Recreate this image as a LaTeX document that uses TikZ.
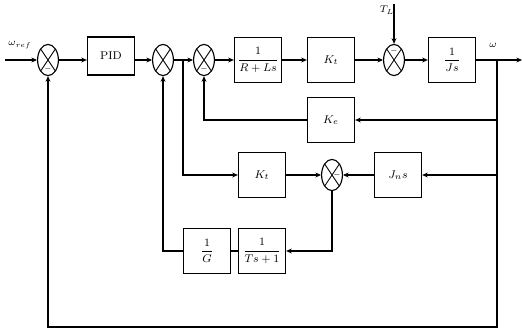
\documentclass[tikz,border=0pt]{standalone}
\usepackage{amsmath}
\usetikzlibrary{arrows.meta,calc,positioning,shapes.geometric}

\begin{document}
\begin{tikzpicture}[>={Stealth[length=4pt,width=3.5pt]}, x=0.025cm, y=-0.025cm, thick,
    every node/.style={font=\scriptsize},
    block/.style={draw, minimum width=1.18cm, minimum height=1.13cm, align=center, inner sep=1pt, font=\footnotesize},
    sumj/.style={draw, ellipse, minimum width=0.52cm, minimum height=0.78cm, inner sep=0pt,
        path picture={\draw[semithick] (path picture bounding box.north west) -- (path picture bounding box.south east)
            (path picture bounding box.north east) -- (path picture bounding box.south west);}},
    sign/.style={font=\tiny, inner sep=0pt}]
\useasboundingbox (0,0) rectangle (523,329);
% main forward path
\coordinate (in) at (5,60);
\node[sumj] (s1) at (48,60) {};
\node[block, minimum height=0.95cm] (pid) at (111,56) {PID};
\node[sumj] (s2) at (163,60) {};
\node[sumj] (s3) at (204,60) {};
\node[block] (rl) at (258,60) {$\dfrac{1}{R+Ls}$};
\node[block] (kt) at (331,60) {$K_t$};
\node[sumj] (s4) at (394,60) {};
\node[block] (js) at (452,60) {$\dfrac{1}{Js}$};
\coordinate (br) at (497,60);
\coordinate (out) at (522,60);
\coordinate (tl) at (394,4);
\node (inl) at (20,45) {$\omega_{ref}$};
\node (tll) at (387,10) {$T_L$};
\node (outl) at (493,45) {$\omega$};
% feedback and observer blocks
\node[block] (ke) at (331,120) {$K_e$};
\coordinate (b2) at (183,60);
\node[block] (kt2) at (262,175) {$K_t$};
\node[sumj] (s5) at (332,175) {};
\node[block] (jn) at (398,175) {$J_n s$};
\node[block] (flt) at (262,251) {$\dfrac{1}{Ts+1}$};
\node[block] (gi) at (207,251) {$\dfrac{1}{G}$};
\coordinate (cr) at (497,327);
% signs
\node[sign] (m1) at ($(s1.south)+(0,-7)$) {$-$};
\node[sign] (m3) at ($(s3.south)+(0,-7)$) {$-$};
\node[sign] (m4) at ($(s4.north)+(0,7)$) {$-$};
\node[sign] (m5) at ($(s5.east)+(-6,0)$) {$-$};
% connectors
\draw[->] (in) -- (s1);
\draw[->] (s1) -- (s1 -| pid.west);
\draw[->] (pid.east |- s2) -- (s2);
\draw[->] (s2) -- (s3);
\draw[->] (s3) -- (rl);
\draw[->] (rl) -- (kt);
\draw[->] (kt) -- (s4);
\draw[->] (tl) -- (s4);
\draw[->] (s4) -- (js);
\draw[->] (js) -- (out);
\draw[->] (br) |- (ke);
\draw[->] (ke) -| (s3);
\draw[->] (b2) |- (kt2);
\draw[->] (kt2) -- (s5);
\draw[->] (br) |- (jn);
\draw[->] (jn) -- (s5);
\draw[->] (s5) |- (flt);
\draw (flt) -- (gi);
\draw[->] (gi) -| (s2);
\draw[->] (br) -- (cr) -| (s1);
\end{tikzpicture}
\end{document}
